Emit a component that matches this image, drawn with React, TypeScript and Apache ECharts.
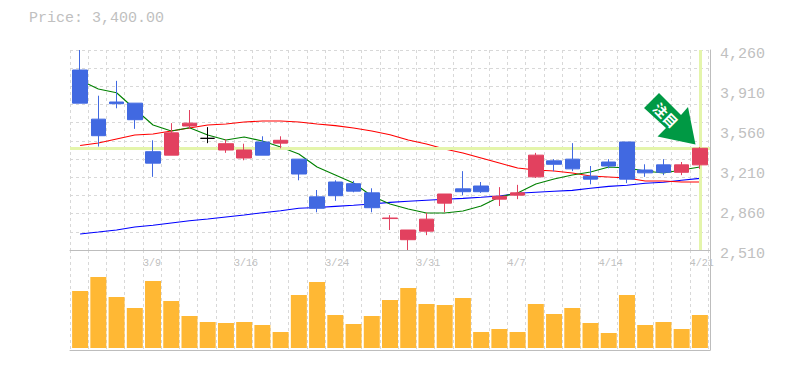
import React, { useEffect, useRef } from "react";
import * as echarts from "echarts";

const days = ["3/3","3/4","3/5","3/6","3/9","3/10","3/11","3/12","3/13","3/16","3/17","3/18","3/19","3/23","3/24","3/25","3/26","3/27","3/30","3/31","4/1","4/2","4/3","4/6","4/7","4/8","4/9","4/10","4/13","4/14","4/15","4/16","4/17","4/20","4/21"];
const xTickLabels = ["3/9","3/16","3/24","3/31","4/7","4/14","4/21"];
const yLabelValues = [2510, 2860, 3210, 3560, 3910, 4260];
const yGridValues = [2510, 2669.09, 2828.18, 2987.27, 3146.36, 3305.45, 3464.55, 3623.64, 3782.73, 3941.82, 4100.91, 4260];
// open, close, low, high
const candles = [
  [4085,3795,3795,4260],[3655,3510,3415,3860],[3805,3790,3750,3990],[3795,3650,3570,3795],[3370,3270,3150,3470],
  [3340,3535,3340,3620],[3595,3620,3570,3735],[3487,3487,3445,3585],[3385,3440,3360,3480],[3315,3385,3295,3440],
  [3455,3340,3340,3505],[3445,3470,3400,3505],[3305,3175,3120,3305],[2975,2875,2840,3035],[3105,2985,2940,3120],
  [3090,3025,3015,3115],[3010,2880,2840,3050],[2785,2790,2685,2815],[2600,2685,2510,2685],[2675,2780,2640,2835],
  [2920,3000,2840,3000],[3045,3020,2990,3200],[3070,3020,3010,3105],[2955,2980,2895,3060],[2990,3010,2955,3080],
  [3150,3340,3140,3360],[3290,3260,3200,3305],[3305,3220,3200,3445],[3155,3130,3085,3245],[3280,3245,3225,3305],
  [3455,3130,3095,3455],[3210,3185,3150,3260],[3255,3190,3165,3305],[3190,3255,3165,3280],[3255,3400,3220,3410],
];
const maShort = [3995,3919,3886,3744,3604,3551,3580,3516,3472,3499,3464,3411,3350,3236,3166,3096,2982,2912,2869,2834,2834,2851,2895,2974,3009,3087,3131,3166,3192,3236,3227,3201,3184,3210,3236];
const maMid = [3424,3446,3481,3516,3525,3551,3577,3604,3612,3630,3639,3639,3630,3612,3598,3577,3551,3519,3472,3437,3394,3359,3315,3271,3227,3210,3201,3184,3157,3149,3140,3114,3114,3105,3105];
const maLong = [2650,2667,2685,2711,2726,2746,2766,2781,2799,2816,2836,2854,2875,2882,2892,2901,2912,2927,2936,2945,2954,2962,2971,2982,3006,3015,3024,3032,3050,3067,3076,3094,3103,3120,3137];
const volumes = [57,71,51,40,67,47,32,26,25,26,23,16,53,66,33,24,32,48,60,44,43,50,16,19,16,44,34,40,25,15,53,23,26,19,33];
const lastPrice = 3400;
const dojiIndex = 7;

const GREY = "#bdbdbd";
const TEXT = "#c0c0c0";
const GRID = "#d8d8d8";
const MONO = "'Liberation Mono', monospace";
const RED = "#E2415F";
const BLUE = "#4169E1";
const CROSS = "#E4F5AB";

const dash = { color: GRID, width: 1, type: [3, 3] };

export default function App() {
  const ref = useRef<HTMLDivElement>(null);
  useEffect(() => {
    const chart = echarts.init(ref.current!, undefined, { renderer: "svg" });
    const candleData = candles.map((c, i) =>
      i === dojiIndex
        ? { value: c, itemStyle: { color: "#000", color0: "#000", borderColor: "#000", borderColor0: "#000" } }
        : c
    );
    const frameX = (gridIndex: number) => ({
      gridIndex, type: "value", min: 0, max: 1,
      axisLine: { show: true, onZero: false, lineStyle: { color: GREY, width: 1 } },
      axisTick: { show: false }, axisLabel: { show: false }, splitLine: { show: false },
    });
    const lineX = (gridIndex: number, labels: boolean) => ({
      gridIndex, type: "category", boundaryGap: false, data: [...days, ""],
      axisLine: { show: false }, axisTick: { show: false },
      splitLine: { show: true, interval: 0, lineStyle: dash },
      axisLabel: labels
        ? { show: true, interval: 0, align: "left", margin: 8, color: TEXT, fontFamily: MONO, fontSize: 10,
            formatter: (v: string) => (xTickLabels.includes(v) ? v : "") }
        : { show: false },
    });
    const dataX = (gridIndex: number) => ({
      gridIndex, type: "category", data: days, show: false,
    });
    const hiddenY = (gridIndex: number, min: number, max: number) => ({
      gridIndex, type: "value", min, max, show: false, splitLine: { show: false },
    });
    chart.setOption({
      animation: false,
      title: {
        text: "Price: 3,400.00", left: 29, top: 11, padding: 0,
        textStyle: { color: TEXT, fontFamily: MONO, fontSize: 15, fontWeight: "normal" },
      },
      grid: [
        { left: 70, top: 50, width: 640, height: 200 },
        { left: 70, top: 250, width: 640, height: 100 },
        { left: 70, top: 50, width: 638, height: 200 },
        { left: 70, top: 250, width: 638, height: 100 },
        { left: 71, top: 50, width: 638, height: 200 },
        { left: 71, top: 250, width: 638, height: 100 },
      ],
      xAxis: [frameX(0), frameX(1), lineX(2, true), lineX(3, false), dataX(4), dataX(5)],
      yAxis: [
        {
          gridIndex: 0, type: "value", position: "right", min: 2510, max: 4260,
          axisLine: { show: true, onZero: false, lineStyle: { color: GREY, width: 1 } },
          axisTick: { show: false, customValues: yGridValues },
          splitLine: { show: true, lineStyle: dash },
          axisLabel: {
            show: true, customValues: yLabelValues, margin: 10, color: TEXT, fontFamily: MONO, fontSize: 15,
            verticalAlign: "top", lineHeight: 8, formatter: (v: number) => v.toLocaleString("en-US"),
          },
        },
        {
          gridIndex: 1, type: "value", position: "right", min: 0, max: 1,
          axisLine: { show: true, onZero: false, lineStyle: { color: GREY, width: 1 } },
          axisTick: { show: false }, axisLabel: { show: false }, splitLine: { show: false },
        },
        hiddenY(2, 0, 1), hiddenY(3, 0, 1), hiddenY(4, 2510, 4260), hiddenY(5, -2, 98),
      ],
      series: [
        {
          type: "line", xAxisIndex: 0, yAxisIndex: 0, data: [], z: 2, silent: true,
          markLine: {
            silent: true, symbol: "none", label: { show: false },
            lineStyle: { color: CROSS, width: 3, type: "solid" }, data: [{ yAxis: lastPrice }],
          },
        },
        { type: "line", name: "MA long", xAxisIndex: 4, yAxisIndex: 4, data: maLong, z: 3, symbol: "none", lineStyle: { color: "#0000ff", width: 1.1 } },
        { type: "line", name: "MA mid", xAxisIndex: 4, yAxisIndex: 4, data: maMid, z: 3, symbol: "none", lineStyle: { color: "#ff0000", width: 1.1 } },
        { type: "line", name: "MA short", xAxisIndex: 4, yAxisIndex: 4, data: maShort, z: 3, symbol: "none", lineStyle: { color: "#008000", width: 1.1 } },
        {
          type: "line", xAxisIndex: 4, yAxisIndex: 4, data: [], z: 2, silent: true,
          markLine: {
            silent: true, symbol: "none", label: { show: false },
            lineStyle: { color: CROSS, width: 3, type: "solid" }, data: [{ xAxis: days[days.length - 1] }],
          },
        },
        {
          type: "candlestick", name: "Price", xAxisIndex: 4, yAxisIndex: 4, data: candleData, z: 5, barWidth: 15,
          itemStyle: { color: RED, color0: BLUE, borderColor: RED, borderColor0: BLUE, borderWidth: 1 },
        },
        {
          type: "bar", name: "Volume", xAxisIndex: 5, yAxisIndex: 5, data: volumes, barWidth: 16, z: 5,
          itemStyle: { color: "#FFB834" },
        },
      ],
      graphic: [
        {
          type: "polygon", z: 20,
          shape: { points: [[659, 93], [681, 115], [688, 107], [695.5, 144.5], [657.5, 136.5], [666, 128], [644, 108]] },
          style: { fill: "#009944" },
        },
        {
          type: "text", z: 21, x: 666, y: 115, rotation: -Math.PI / 4,
          style: {
            text: "注目", fill: "#fff", font: "bold 14px 'Noto Sans CJK JP'", align: "center", verticalAlign: "middle",
          },
        },
      ],
    });
    return () => chart.dispose();
  }, []);
  return <div ref={ref} style={{ position: "absolute", left: 0, top: 0, width: 785, height: 370 }} />;
}
